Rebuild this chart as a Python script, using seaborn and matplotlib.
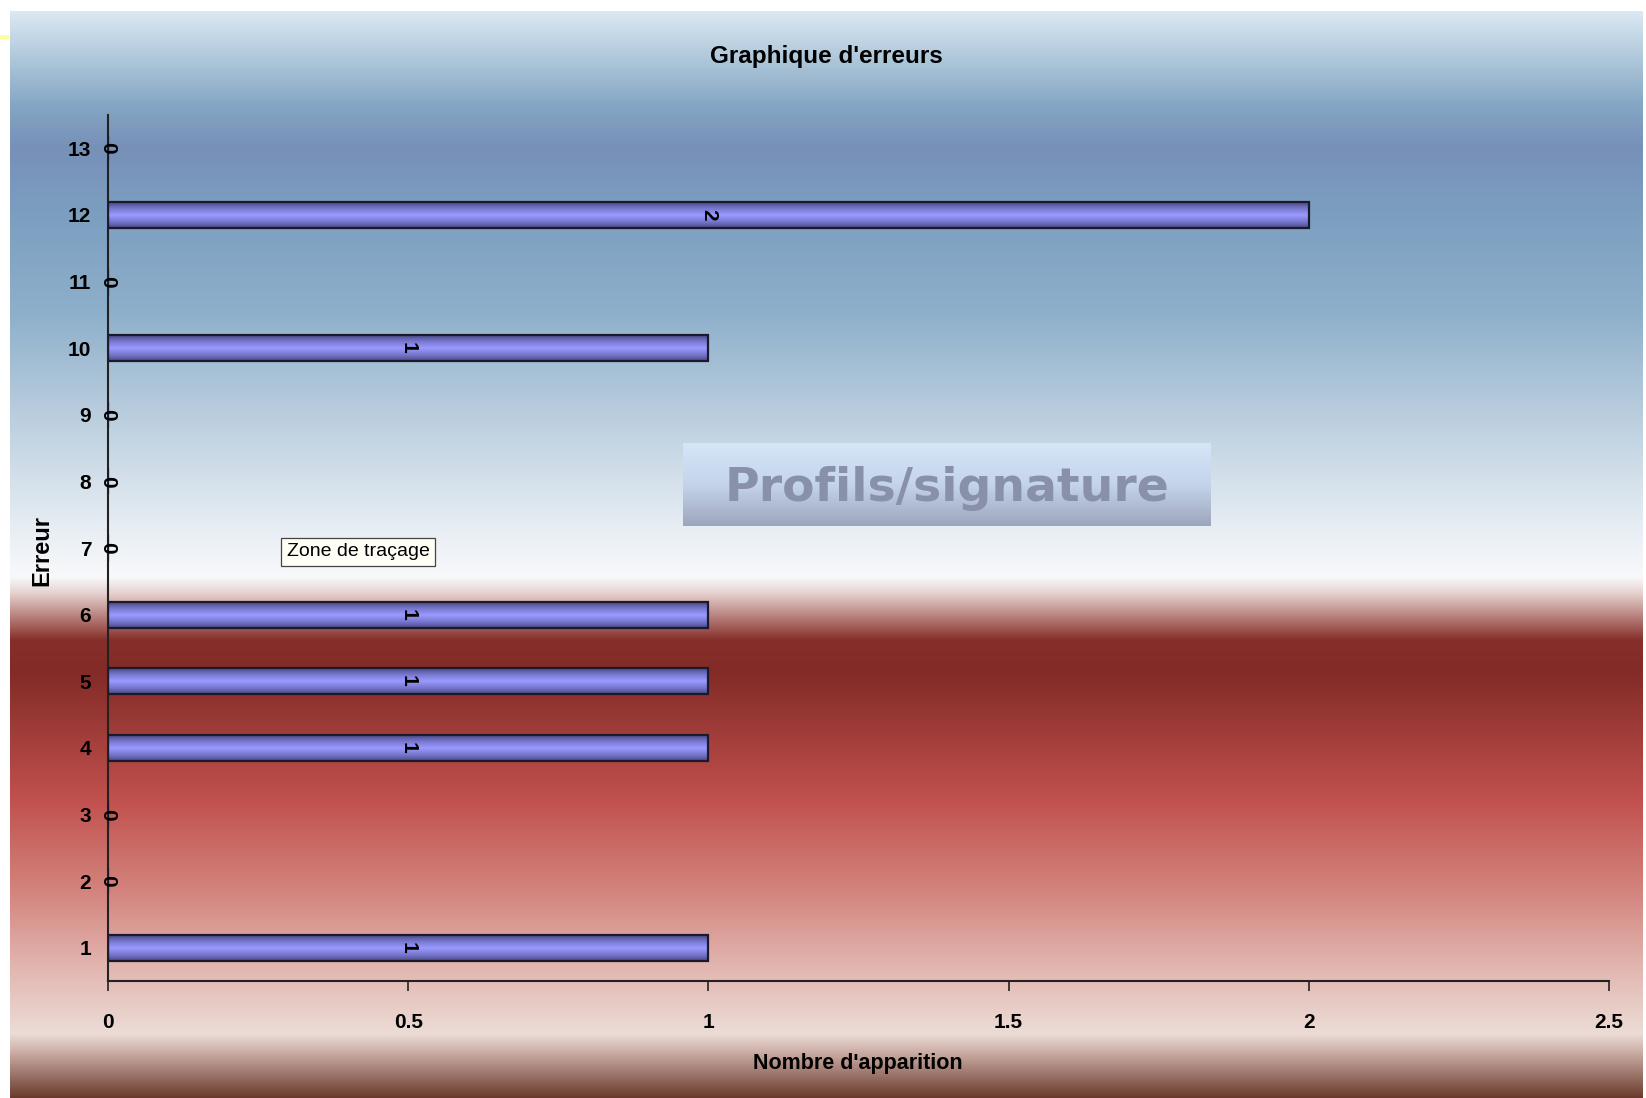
import numpy as np
import pandas as pd
import matplotlib
matplotlib.use("Agg")
import matplotlib.pyplot as plt
from matplotlib.colors import LinearSegmentedColormap
import seaborn as sns

# ---------------- data ----------------
erreurs = ['1', '2', '3', '4', '5', '6', '7', '8', '9', '10', '11', '12', '13']
occurrences = [1, 0, 0, 1, 1, 1, 0, 0, 0, 1, 0, 2, 0]
x_ticks = [0, 0.5, 1, 1.5, 2, 2.5]
x_tick_labels = ['0', '0.5', '1', '1.5', '2', '2.5']
title = "Graphique d'erreurs"
x_label = "Nombre d'apparition"
y_label = "Erreur"
watermark = "Profils/signature"
tooltip = "Zone de traçage"

df = pd.DataFrame({"Erreur": erreurs, "Nombre": occurrences})
order = erreurs[::-1]

W, H = 1646, 1098
def fx(p): return p / W
def fy(p): return 1 - p / H

FONT = ['Liberation Sans', 'DejaVu Sans']
plt.rcParams['font.family'] = FONT

fig = plt.figure(figsize=(W / 100, H / 100), dpi=100)
fig.patch.set_facecolor('white')

# ---------------- background gradient ----------------
stops_px = [11, 63, 105, 147, 210, 315, 420, 525, 577, 593, 620, 640, 672,
            798, 892, 966, 1034, 1050, 1098]
stops_col = ['#dce9f3', '#aac4d8', '#84a6c4', '#7790b8', '#7b9ec0', '#8fb0cb',
             '#bccfdf', '#e6edf3', '#f8f9fb', '#e6d2cf', '#b07570', '#862f2a',
             '#822b27', '#c0504d', '#d4847e', '#e2b5af', '#ecdcd6', '#d0b4ac',
             '#6b3a2c']
pos = [(p - 11) / (1098 - 11) for p in stops_px]
bg_cmap = LinearSegmentedColormap.from_list('bg', list(zip(pos, stops_col)), N=4096)
bg_ax = fig.add_axes([fx(10), 0, fx(1643) - fx(10), fy(11)])
grad = np.linspace(0, 1, 2000).reshape(-1, 1)
bg_ax.imshow(grad, aspect='auto', cmap=bg_cmap, extent=(0, 1, 1, 0), interpolation='bilinear')
bg_ax.set_xlim(0, 1); bg_ax.set_ylim(1, 0)
bg_ax.axis('off')

# small yellow artifact at top-left
fig.patches.append(plt.Rectangle((0, fy(39)), fx(9), 4 / H, transform=fig.transFigure,
                                 facecolor='#ffff99', edgecolor='none'))

# ---------------- main axes ----------------
ax = fig.add_axes([fx(108), fy(981), fx(1609) - fx(108), fy(115) - fy(981)])
ax.set_facecolor('none')

sns.barplot(data=df, x="Nombre", y="Erreur", order=order, orient='h', width=0.39,
            color='#9999ff', edgecolor='#1a1a2a', linewidth=1.6, ax=ax, zorder=3)

bar_cmap = LinearSegmentedColormap.from_list(
    'bar', [(0, '#4a4a88'), (0.25, '#7878d0'), (0.5, '#9a9aff'), (0.75, '#7878d0'), (1, '#4a4a88')],
    N=1024)
for p in ax.patches:
    x0, y0, w, h = p.get_x(), p.get_y(), p.get_width(), p.get_height()
    p.set_facecolor('none')
    if w > 0:
        ax.imshow(np.linspace(0, 1, 100).reshape(-1, 1), cmap=bar_cmap, aspect='auto',
                  extent=(x0, x0 + w, y0 + h, y0), zorder=2)

# data labels (rotated)
for i, cat in enumerate(order):
    v = occurrences[erreurs.index(cat)]
    ax.text(v / 2, i, str(v), rotation=-90, ha='center', va='center',
            fontsize=15, fontweight='bold', color='black', zorder=5)

ax.set_xlim(0, 2.5)
ax.set_ylim(12.5, -0.5)
ax.set_xticks(x_ticks)
ax.set_xticklabels(x_tick_labels, fontsize=15, fontweight='bold')
ax.set_yticks(range(len(order)))
ax.set_yticklabels(order, fontsize=15, fontweight='bold')
ax.tick_params(axis='y', length=0, pad=12)
ax.tick_params(axis='x', length=7, width=1.2, direction='out', pad=16, color='#222222')
ax.set_xlabel(''); ax.set_ylabel('')
for s in ['top', 'right']:
    ax.spines[s].set_visible(False)
for s in ['left', 'bottom']:
    ax.spines[s].set_color('#222222')
    ax.spines[s].set_linewidth(1.5)
ax.grid(False)

# ---------------- texts ----------------
fig.text(fx(826), fy(57), title, ha='center', va='center', fontsize=17.5, fontweight='bold')
fig.text(fx(858), fy(1064), x_label, ha='center', va='center', fontsize=15.5, fontweight='bold')
fig.text(fx(42), fy(551), y_label, ha='center', va='center', rotation=90, fontsize=17,
         fontweight='bold')

# tooltip
fig.text(fx(358), fy(552), tooltip, ha='center', va='center', fontsize=14,
         bbox=dict(boxstyle='square,pad=0.3', facecolor='#fffff6', edgecolor='#444444',
                   linewidth=0.9))

# watermark box
wm_ax = fig.add_axes([fx(683), fy(526), fx(1211) - fx(683), fy(443) - fy(526)])
wm_cmap = LinearSegmentedColormap.from_list('wm', ['#d6e6f8', '#c4d4ea', '#9da6bd'], N=1024)
wm_ax.imshow(np.linspace(0, 1, 100).reshape(-1, 1), cmap=wm_cmap, aspect='auto',
             extent=(0, 1, 1, 0))
wm_ax.set_xlim(0, 1); wm_ax.set_ylim(1, 0)
wm_ax.axis('off')
wm_ax.text(0.5, 0.55, watermark, ha='center', va='center', fontsize=34, fontweight='bold',
           color='#8890aa', family=['DejaVu Sans'])

fig.savefig('out.png', dpi=100)
